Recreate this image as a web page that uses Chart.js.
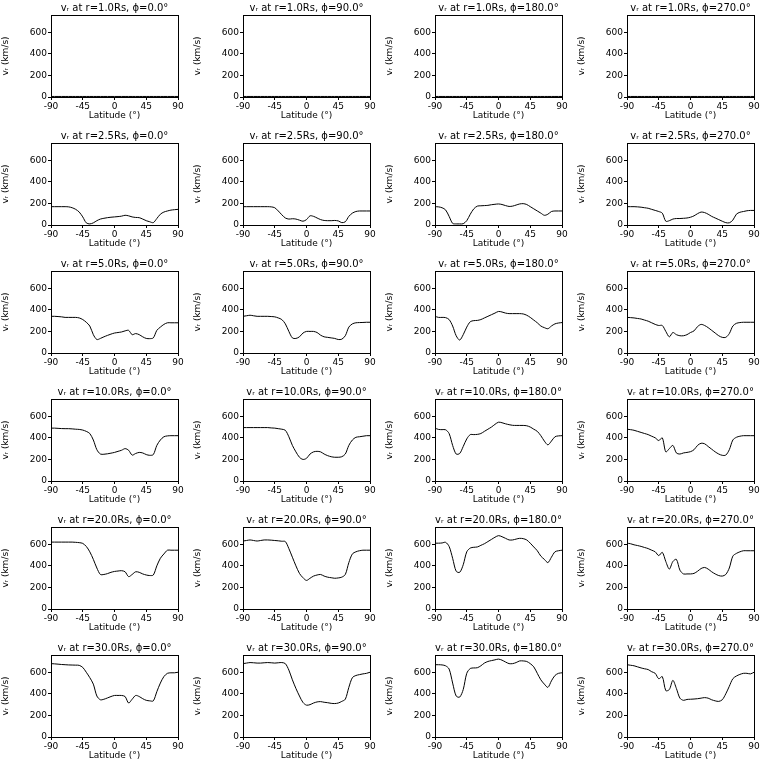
<!DOCTYPE html>
<html><head><meta charset="utf-8">
<script src="https://cdn.jsdelivr.net/npm/chart.js@4/dist/chart.umd.min.js"></script>
<style>html,body{margin:0;padding:0;background:#fff;}#g{position:relative;width:768px;height:768px;}canvas{position:absolute;}</style>
</head><body><div id="g"></div>
<script>
const latitudes=[-90,-85,-80,-75,-70,-65,-60,-55,-50,-45,-40,-35,-30,-25,-20,-15,-10,-5,0,5,10,15,20,25,30,35,40,45,50,55,60,65,70,75,80,85,90];
const radii=["1.0","2.5","5.0","10.0","20.0","30.0"];
const phis=["0.0","90.0","180.0","270.0"];
const xTicks=[-90,-45,0,45,90];
const yTicks=[0,200,400,600];
const flat=[5,5,5,5,5,5,5,5,5,5,5,5,5,5,5,5,5,5,5,5,5,5,5,5,5,5,5,5,5,5,5,5,5,5,5,5,5];
const r1_p0=flat,r1_p90=flat,r1_p180=flat,r1_p270=flat;
const r25_p0=[170,170,170,170,170,168,160,145,120,75,20,10,20,40,55,62,68,72,75,78,82,90,85,75,70,68,55,40,30,22,60,100,120,130,138,142,145];
const r25_p90=[170,170,170,170,170,170,170,170,168,160,130,95,65,55,58,55,45,35,50,85,80,65,50,42,40,40,42,38,22,30,80,110,125,130,130,130,130];
const r25_p180=[170,168,160,140,80,15,10,10,12,40,100,150,175,178,180,182,188,192,195,190,180,172,175,185,195,198,190,170,150,130,110,90,100,125,130,130,130];
const r25_p270=[170,170,170,168,165,160,155,145,135,125,110,35,40,55,60,60,62,65,72,85,105,120,115,100,80,65,50,35,22,20,45,100,118,125,132,135,135];
const r5_p0=[340,340,338,335,330,330,330,330,325,310,285,250,170,125,135,150,163,175,185,190,195,205,210,170,180,170,150,135,133,140,210,240,265,280,280,280,280];
const r5_p90=[340,345,350,345,340,340,340,340,338,335,325,310,270,200,140,135,150,185,200,200,200,190,165,150,145,140,135,125,128,160,240,270,280,282,283,285,285];
const r5_p180=[340,330,330,328,310,250,160,120,170,240,290,300,302,310,325,340,355,370,385,380,370,365,365,365,365,362,350,330,305,280,250,235,225,250,270,278,282];
const r5_p270=[330,328,325,320,315,305,295,280,265,255,255,200,150,190,170,160,160,170,190,205,245,265,255,235,210,185,160,145,145,180,250,275,282,285,285,285,285];
const r10_p0=[490,490,488,486,485,485,483,480,478,472,460,440,380,290,250,248,252,258,265,275,285,300,285,240,255,265,260,245,238,245,330,380,410,418,420,420,420];
const r10_p90=[495,495,495,495,495,495,495,495,492,490,485,480,470,410,330,270,220,200,210,250,270,275,270,250,235,225,220,220,225,250,330,380,405,410,415,420,420];
const r10_p180=[490,478,476,475,440,330,250,255,320,390,430,430,432,440,460,480,500,525,545,540,530,522,516,515,515,515,512,500,480,460,420,370,335,370,410,418,420];
const r10_p270=[480,476,470,460,450,440,430,415,400,375,400,270,300,330,260,250,260,265,272,290,330,350,345,320,295,270,250,238,240,290,380,405,415,420,420,420,420];
const r20_p0=[620,620,620,620,620,620,620,618,615,608,580,530,460,380,320,320,328,340,348,352,355,345,300,320,345,340,325,315,310,315,400,470,510,545,545,545,545];
const r20_p90=[630,635,640,635,630,635,640,640,638,635,632,628,625,560,480,400,330,290,265,285,305,315,320,305,295,290,285,288,295,320,430,510,530,540,545,545,545];
const r20_p180=[610,610,612,618,580,470,350,340,410,530,565,572,575,590,605,625,645,665,680,670,655,640,640,648,655,652,640,610,575,540,490,460,430,480,530,540,545];
const r20_p270=[610,605,595,588,580,570,560,545,530,495,525,440,370,440,460,360,325,325,325,330,350,375,385,370,345,325,310,305,320,380,490,515,530,540,540,540,540];
const r30_p0=[680,678,675,672,670,668,667,666,664,645,600,550,490,380,345,350,362,375,385,385,385,375,315,350,385,375,355,340,335,335,420,500,560,590,595,595,600];
const r30_p90=[680,685,690,688,685,685,688,690,688,685,688,690,680,620,530,450,380,320,295,300,315,325,328,322,318,312,310,315,330,350,460,550,570,578,585,590,600];
const r30_p180=[670,670,668,660,630,500,380,370,440,590,635,640,642,660,685,700,708,715,722,712,695,680,680,690,705,705,700,680,650,590,530,490,460,520,570,590,595];
const r30_p270=[670,665,660,650,640,632,625,605,590,540,560,430,440,525,450,360,340,348,350,352,355,360,365,360,345,335,330,345,400,470,540,565,580,590,590,585,600];
const series=[[r1_p0,r1_p90,r1_p180,r1_p270],[r25_p0,r25_p90,r25_p180,r25_p270],[r5_p0,r5_p90,r5_p180,r5_p270],[r10_p0,r10_p90,r10_p180,r10_p270],[r20_p0,r20_p90,r20_p180,r20_p270],[r30_p0,r30_p90,r30_p180,r30_p270]];

Chart.defaults.font.family="'DejaVu Sans'";
Chart.defaults.font.size=9;
Chart.defaults.color="#000";
const boxPlugin={id:'box',afterDraw(c){const a=c.chartArea,x=c.ctx;x.save();x.strokeStyle='#000';x.lineWidth=1;x.strokeRect(a.left+0.5,a.top+0.5,a.right-a.left,a.bottom-a.top);
 x.fillStyle='#000';x.font="10px 'DejaVu Sans'";x.textAlign='center';x.textBaseline='bottom';
 x.fillText(c.options.plugins.box.text,(a.left+a.right)/2,a.top-2);x.restore();}};
const g=document.getElementById('g');
for(let r=0;r<6;r++)for(let p=0;p<4;p++){
 const cv=document.createElement('canvas');cv.width=192;cv.height=128;
 cv.style.left=(p*192)+'px';cv.style.top=(r*128)+'px';g.appendChild(cv);
 new Chart(cv,{type:'line',
  data:{datasets:[{data:latitudes.map((l,i)=>({x:l,y:series[r][p][i]})),borderColor:'#000',borderWidth:1,pointRadius:0,tension:0.3,fill:false}]},
  options:{responsive:false,animation:false,devicePixelRatio:1,
   layout:{padding:{right:14,top:15,left:0,bottom:7}},
   plugins:{legend:{display:false},tooltip:{enabled:false},title:{display:false},
    box:{text:'vᵣ at r='+radii[r]+'Rs, ϕ='+phis[p]+'°'}},
   scales:{
    x:{type:'linear',min:-90,max:90,afterBuildTicks:s=>{s.ticks=xTicks.map(v=>({value:v}));},
     grid:{display:true,drawOnChartArea:false,tickLength:3,color:'#000'},border:{color:'#000'},
     ticks:{padding:1,maxRotation:0,autoSkip:false},
     title:{display:true,text:'Latitude (°)',font:{size:9},padding:{top:0,bottom:0}},
     afterFit:s=>{s.height=24;}},
    y:{type:'linear',min:0,max:760,afterBuildTicks:s=>{s.ticks=yTicks.map(v=>({value:v}));},
     grid:{display:true,drawOnChartArea:false,tickLength:3,color:'#000'},border:{color:'#000'},
     ticks:{padding:1},
     title:{display:true,text:'vᵣ (km/s)',font:{size:9},padding:{top:0,bottom:2}},
     afterFit:s=>{s.width=51;}}
   }},plugins:[boxPlugin]});
}
</script></body></html>
